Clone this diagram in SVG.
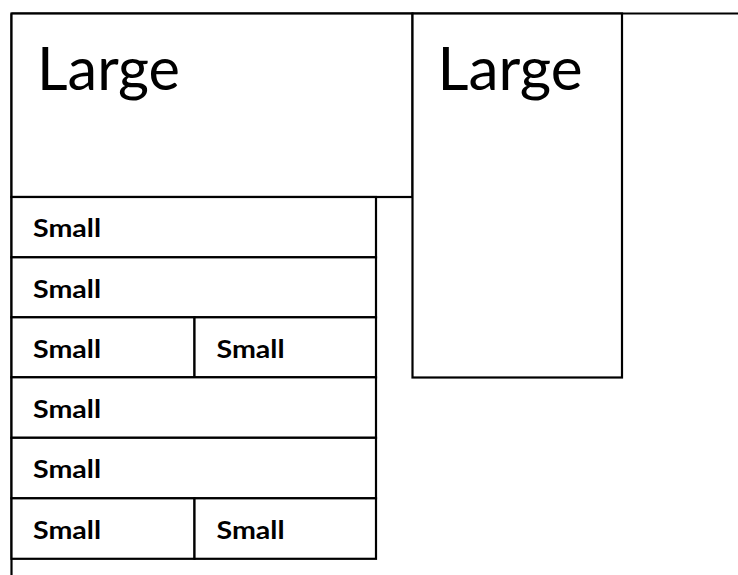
<svg xmlns="http://www.w3.org/2000/svg" width="738" height="575" viewBox="0 0 738 575">
<style>
.box{fill:#fff;stroke:#000;stroke-width:2.2}
.ln{stroke:#000;stroke-width:2.2;fill:none}
.lg{font-family:Lato,"Open Sans",sans-serif;font-size:60px;fill:#000}
.sm{font-family:Lato,"Open Sans",sans-serif;font-size:25px;font-weight:bold;fill:#000}
</style>
<rect width="738" height="575" fill="#fff"/>
<g id="frame">
<line class="ln" x1="11.5" y1="13.5" x2="738" y2="13.5"/>
<line class="ln" x1="11.5" y1="13.5" x2="11.5" y2="575"/>
</g>
<g id="large1">
<rect class="box" x="11.5" y="13.5" width="401" height="183.5"/>
<text class="lg" x="37" y="89.5" textLength="143" lengthAdjust="spacingAndGlyphs">Large</text>
</g>
<g id="large2">
<rect class="box" x="412.5" y="13.5" width="209.5" height="364"/>
<text class="lg" x="437.5" y="89.5" textLength="145" lengthAdjust="spacingAndGlyphs">Large</text>
</g>
<g id="small1">
<rect class="box" x="11.5" y="197" width="364.5" height="60.3"/>
<text class="sm" x="33" y="237.3" textLength="68" lengthAdjust="spacingAndGlyphs">Small</text>
</g>
<g id="small2">
<rect class="box" x="11.5" y="257.3" width="364.5" height="60"/>
<text class="sm" x="33" y="297.5" textLength="68" lengthAdjust="spacingAndGlyphs">Small</text>
</g>
<g id="small3a">
<rect class="box" x="11.5" y="317.3" width="183" height="60"/>
<text class="sm" x="33" y="357.5" textLength="68" lengthAdjust="spacingAndGlyphs">Small</text>
</g>
<g id="small3b">
<rect class="box" x="194.5" y="317.3" width="181.5" height="60"/>
<text class="sm" x="216.5" y="357.5" textLength="68" lengthAdjust="spacingAndGlyphs">Small</text>
</g>
<g id="small4">
<rect class="box" x="11.5" y="377.3" width="364.5" height="60.5"/>
<text class="sm" x="33" y="418" textLength="68" lengthAdjust="spacingAndGlyphs">Small</text>
</g>
<g id="small5">
<rect class="box" x="11.5" y="437.8" width="364.5" height="60.5"/>
<text class="sm" x="33" y="478.3" textLength="68" lengthAdjust="spacingAndGlyphs">Small</text>
</g>
<g id="small6a">
<rect class="box" x="11.5" y="498.3" width="183" height="60.5"/>
<text class="sm" x="33" y="538.6" textLength="68" lengthAdjust="spacingAndGlyphs">Small</text>
</g>
<g id="small6b">
<rect class="box" x="194.5" y="498.3" width="181.5" height="60.5"/>
<text class="sm" x="216.5" y="538.6" textLength="68" lengthAdjust="spacingAndGlyphs">Small</text>
</g>
<g id="connectors"></g>
</svg>
